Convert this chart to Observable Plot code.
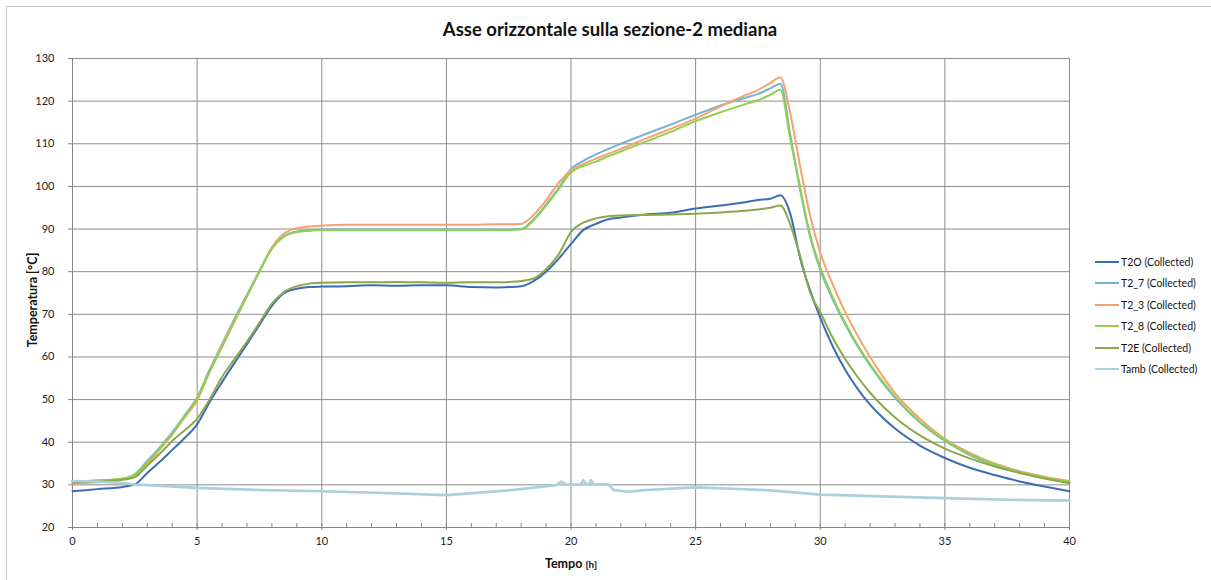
<!DOCTYPE html>
<html><head><meta charset="utf-8">
<script src="https://cdn.jsdelivr.net/npm/d3@7"></script>
<script src="https://cdn.jsdelivr.net/npm/@observablehq/plot@0.6"></script>
<style>
body{margin:0;background:#fff;}
#wrap{position:relative;width:1211px;height:580px;overflow:hidden;font-family:Lato,"Open Sans",sans-serif;color:#111;}
#frame{position:absolute;left:6px;top:6px;width:1400px;height:800px;border:1.5px solid #c8c8c8;box-sizing:border-box;}
#chart{position:absolute;left:0;top:0;}
#title{position:absolute;left:610px;top:18px;transform:translateX(-50%);font-weight:bold;font-size:18.5px;white-space:nowrap;}
#ylab{position:absolute;left:32px;top:300px;transform:translate(-50%,-50%) rotate(-90deg);font-weight:bold;font-size:12.5px;white-space:nowrap;}
#xlab{position:absolute;left:571px;top:563px;transform:translate(-50%,-50%);font-weight:bold;font-size:12.5px;white-space:nowrap;}
#xlab span{font-size:10px;}
#legend{position:absolute;left:1095px;top:251px;font-size:10.5px;}
#legend .row{height:21.5px;display:flex;align-items:center;white-space:nowrap;}
#legend .sw{width:24px;height:2px;margin-right:2px;}
</style></head>
<body>
<div id="wrap">
  <div id="frame"></div>
  <div id="chart"></div>
  <div id="title">Asse orizzontale sulla sezione-2 mediana</div>
  <div id="ylab">Temperatura [°C]</div>
  <div id="xlab">Tempo <span>[h]</span></div>
  <div id="legend"></div>
</div>
<script>
const seriesNames = ["T2O (Collected)","T2_7 (Collected)","T2_3 (Collected)","T2_8 (Collected)","T2E (Collected)","Tamb (Collected)"];
const seriesColors = ["#3D6CB3","#72B4CF","#F5A172","#90D04F","#8BA84A","#ABCFDC"];

const hours = [0,1,2,2.5,3,3.5,4,4.5,5,5.5,6,6.5,7,7.5,8,8.5,9,9.5,10,11,12,13,14,15,16,17,17.5,18,18.5,19,19.5,20,20.5,21,21.5,22,23,24,25,26,27,27.5,28,28.4,28.8,29.2,29.6,30,30.5,31,31.5,32,32.5,33,34,35,36,37,38,39,40];

const t2o = [28.5,29.0,29.5,30.1,32.8,35.4,38.2,41.0,44.2,
  49.4,54.1,58.6,63.0,67.5,72.0,75.0,76.0,76.4,76.5,
  76.6,76.8,76.7,76.8,76.8,76.4,76.3,
  76.4,76.6,77.8,80.0,83.0,86.5,
  89.8,91.2,92.3,92.7,93.4,93.8,94.8,95.5,96.3,
  96.8,97.1,97.9,93.5,83.0,75.5,69.2,
  62.5,57.0,52.5,48.8,45.8,43.2,39.2,36.3,
  34.0,32.3,30.8,29.6,28.5];

const t2_7 = [30.8,31.0,31.4,32.5,35.6,38.8,42.3,46.3,50.5,
  57.0,63.0,69.0,74.6,80.2,85.6,88.4,89.4,89.7,89.9,
  89.9,89.9,89.9,89.9,89.9,89.9,89.9,
  89.9,90.0,92.3,95.7,99.6,104.1,
  106.0,107.5,108.8,110.0,112.3,114.5,116.8,119.0,120.8,
  121.7,123.0,124.1,112.0,99.0,88.0,80.5,
  73.5,67.6,62.5,58.0,54.0,50.4,44.6,40.3,
  37.0,34.6,32.9,31.6,30.7];

const t2_3 = [30.3,30.6,31.2,32.0,35.0,38.3,41.8,45.8,49.8,
  56.5,62.7,68.6,74.3,80.0,85.7,89.0,90.2,90.6,90.8,
  91.0,91.0,91.0,91.0,91.0,91.0,91.1,
  91.1,91.2,93.3,96.7,100.8,103.7,
  105.3,106.5,107.7,108.8,111.2,113.5,115.9,118.8,121.4,
  122.6,124.3,125.6,117.0,104.5,93.0,84.5,
  77.0,70.5,65.0,60.0,55.5,51.5,45.5,40.8,
  37.5,35.0,33.2,31.9,30.9];

const t2_8 = [30.8,31.0,31.5,32.3,35.3,38.5,42.0,46.0,50.3,
  56.5,62.3,68.3,74.2,80.0,85.4,88.3,89.3,89.6,89.8,
  89.8,89.8,89.8,89.8,89.8,89.8,89.8,
  89.8,89.9,92.1,95.5,99.3,103.3,
  104.8,105.8,107.1,108.2,110.5,112.8,115.3,117.4,119.3,
  120.2,121.5,122.7,111.0,99.5,88.5,81.0,
  74.0,68.0,62.8,58.3,54.3,50.7,44.8,40.5,
  37.2,34.8,33.0,31.7,30.8];

const t2e = [30.5,30.9,31.2,31.8,34.5,37.3,40.3,42.8,45.5,
  50.0,55.3,59.5,63.6,68.0,72.5,75.3,76.6,77.2,77.4,
  77.5,77.5,77.6,77.5,77.4,77.5,77.5,
  77.6,77.8,78.4,80.6,84.0,89.3,
  91.5,92.5,93.0,93.2,93.3,93.4,93.6,93.9,94.3,
  94.6,95.0,95.5,91.0,83.5,75.0,70.5,
  64.5,59.5,55.3,51.6,48.5,45.8,41.6,38.5,
  36.2,34.3,32.8,31.5,30.4];

const ambHours = [0,1,2,2.5,5,7.5,10,12.5,15,17.5,19.4,19.6,19.8,20,20.4,20.5,20.6,20.75,20.8,20.9,21.5,21.7,22.3,23,25,26.5,28,30,32.5,35,37.5,40];
const tamb = [30.9,30.8,30.4,30.1,29.3,28.8,28.5,28.1,27.6,28.7,29.9,30.8,30.1,30.1,30.1,31.1,30.2,30.2,31.1,30.2,30.1,28.8,28.4,28.8,29.4,29.1,28.7,27.7,27.3,26.9,26.5,26.3];

const majorHours = [0,5,10,15,20,25,30,35,40];
const minorHours = d3.range(0,41,1);
const tempTicks = [20,30,40,50,60,70,80,90,100,110,120,130];

const seriesValues = [t2o,t2_7,t2_3,t2_8,t2e];
const rows = [];
seriesValues.forEach((vals,si)=>vals.forEach((v,i)=>rows.push({s:seriesNames[si],t:hours[i],v})));
const ambRows = tamb.map((v,i)=>({s:seriesNames[5],t:ambHours[i],v}));

const grid = "#8c8c8c";
const plot = Plot.plot({
  width:1211, height:580,
  marginLeft:72, marginRight:142, marginTop:58, marginBottom:53,
  style:{fontFamily:"Lato, 'Open Sans', sans-serif", fontSize:"11px", color:"#222", background:"transparent"},
  x:{domain:[0,40]},
  y:{domain:[20,130]},
  color:{domain:seriesNames, range:seriesColors},
  marks:[
    Plot.gridX(majorHours,{stroke:grid,strokeOpacity:1}),
    Plot.gridY(tempTicks,{stroke:grid,strokeOpacity:1}),
    Plot.ruleY([20],{stroke:"#868686"}),
    Plot.ruleX([0],{stroke:"#868686"}),
    Plot.axisX(majorHours,{tickSize:3,tickPadding:7,label:null,stroke:"#868686",tickFormat:d=>String(d)}),
    Plot.axisX(minorHours,{tickSize:-4,tickFormat:()=>"",label:null,stroke:"#868686"}),
    Plot.axisY(tempTicks,{tickSize:4,tickPadding:14,label:null,stroke:"#868686",tickFormat:d=>String(d)}),
    Plot.line(rows,{x:"t",y:"v",z:"s",stroke:"s",strokeWidth:2,curve:"monotone-x"}),
    Plot.line(ambRows,{x:"t",y:"v",stroke:"s",strokeWidth:2.6})
  ]
});
document.getElementById("chart").appendChild(plot);

const leg = document.getElementById("legend");
seriesNames.forEach((n,i)=>{
  const r = document.createElement("div"); r.className="row";
  const sw = document.createElement("div"); sw.className="sw"; sw.style.background=seriesColors[i];
  const tx = document.createElement("span"); tx.textContent=n;
  r.appendChild(sw); r.appendChild(tx); leg.appendChild(r);
});
</script>
</body></html>
